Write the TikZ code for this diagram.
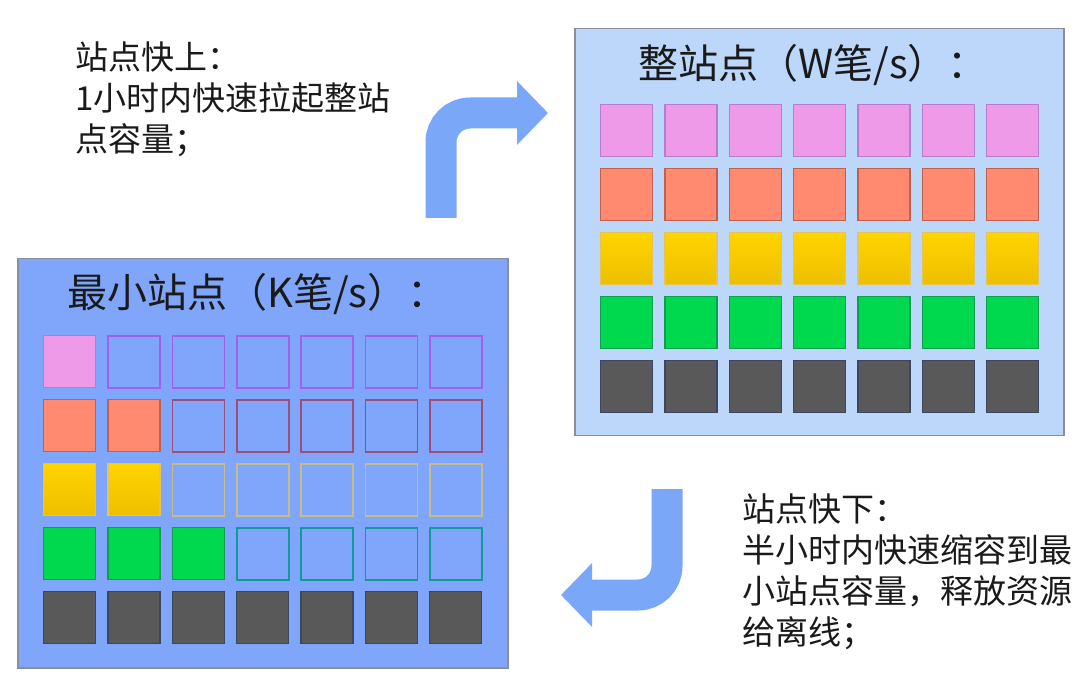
\documentclass[tikz,border=0pt]{standalone}
\usepackage{fontspec}
\setmainfont{Noto Sans CJK SC}
\usepackage{xcolor}
\usepackage{tikz}
\usetikzlibrary{positioning, arrows.meta}

\definecolor{panelL}{HTML}{7FA6FA}
\definecolor{panelR}{HTML}{BDD7FB}
\definecolor{frameC}{HTML}{8C8C9C}
\definecolor{arrowC}{HTML}{7BA7F8}
\definecolor{pinkC}{HTML}{EE9AE8}
\definecolor{pinkD}{HTML}{B77BD0}
\definecolor{pinkE}{HTML}{A060E8}
\definecolor{salmonC}{HTML}{FF8A70}
\definecolor{salmonD}{HTML}{C0604E}
\definecolor{salmonE}{HTML}{9A4E78}
\definecolor{goldC}{HTML}{FFD400}
\definecolor{goldB}{HTML}{EDBF00}
\definecolor{goldD}{HTML}{E6C35A}
\definecolor{goldE}{HTML}{C8BC88}
\definecolor{greenC}{HTML}{00D84E}
\definecolor{greenD}{HTML}{0E9E50}
\definecolor{greenE}{HTML}{129A9A}
\definecolor{greyC}{HTML}{595959}
\definecolor{greyD}{HTML}{3B4760}
\definecolor{textC}{HTML}{1A1A1A}

\tikzset{
  cell/.style={draw, line width=1.4pt, minimum size=52pt, inner sep=0pt, anchor=north west},
  full0/.style={fill=pinkC, draw=pinkD},
  full1/.style={fill=salmonC, draw=salmonD},
  full2/.style={top color=goldC, middle color=goldC, bottom color=goldB, draw=goldD},
  full3/.style={fill=greenC, draw=greenD},
  full4/.style={fill=greyC, draw=greyD},
  empty0/.style={draw=pinkE, line width=1.7pt},
  empty1/.style={draw=salmonE, line width=1.7pt},
  empty2/.style={draw=goldE, line width=1.7pt},
  empty3/.style={draw=greenE, line width=1.7pt},
  empty4/.style={draw=greyD, fill=greyC},
  panel/.style={draw=frameC, line width=1.5pt, inner sep=0pt, anchor=north west},
  bigarrow/.style={draw=arrowC, line width=31pt, rounded corners=29pt},
  title/.style={anchor=west, inner sep=0pt, text=textC, font=\fontsize{40}{48}\selectfont},
  note/.style={anchor=north west, inner sep=0pt, align=left, text=textC, font=\fontsize{33}{41}\selectfont}
}

\begin{document}
\begin{tikzpicture}[x=1pt, y=-1pt]
  \useasboundingbox[fill=white] (0,0) rectangle (1080,676);

  % panels
  \node[panel, fill=panelL, minimum width=490pt, minimum height=409pt] (lowbox) at (17,258) {};
  \node[panel, fill=panelR, minimum width=489pt, minimum height=407pt] (fullbox) at (574,28) {};

  \node[title] (lowtitle) at (67,294) {最小站点（K笔/s）：};
  \node[title] (fulltitle) at (638,65) {整站点（W笔/s）：};

  % minimum site: filled cells per row
  \foreach \r/\n in {0/1, 1/2, 2/2, 3/3, 4/7} {
    \foreach \c in {0,...,6} {
      \ifnum\c<\n
        \node[cell, full\r] (low-\r-\c) at ({43+\c*64.33}, {335+\r*64}) {};
      \else
        \node[cell, empty\r] (low-\r-\c) at ({43+\c*64.33}, {335+\r*64}) {};
      \fi
    }
  }

  % whole site
  \foreach \r in {0,...,4} {
    \foreach \c in {0,...,6} {
      \node[cell, full\r] (full-\r-\c) at ({600+\c*64.33}, {104+\r*64}) {};
    }
  }

  % arrows
  \coordinate (upfoot) at (441,218);
  \coordinate (uptip) at (548,113);
  \draw[bigarrow, -{Triangle[length=31pt, width=62pt]}] (upfoot) |- (uptip);

  \coordinate (downfoot) at (667,489);
  \coordinate (downtip) at (561,595);
  \draw[bigarrow, -{Triangle[length=31pt, width=62pt]}] (downfoot) |- (downtip);

  \node[note] (uptext) at (75,42) {站点快上：\\1小时内快速拉起整站\\点容量；};
  \node[note] (downtext) at (742,494) {站点快下：\\半小时内快速缩容到最\\小站点容量，释放资源\\给离线；};
\end{tikzpicture}
\end{document}
